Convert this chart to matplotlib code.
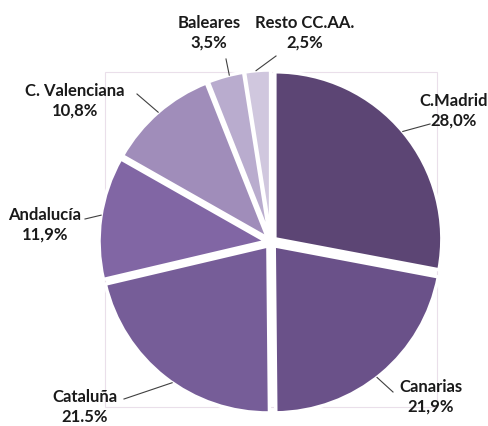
import matplotlib.pyplot as plt
import numpy as np
from matplotlib.patches import Rectangle

# data
regions = ["C.Madrid", "Canarias", "Cataluña", "Andalucía", "C. Valenciana", "Baleares", "Resto CC.AA."]
shares = [28.0, 21.9, 21.5, 11.9, 10.8, 3.5, 2.5]
share_labels = ["28,0%", "21,9%", "21.5%", "11,9%", "10,8%", "3,5%", "2,5%"]
colors = ["#5c4574", "#6a5189", "#765d98", "#8166a4", "#a08dba", "#b9acce", "#d0c7de"]

# layout (pixels from top-left of the image)
W, H = 489, 427
cx, cy, R = 271, 243, 167
label_pos = [(454, 111), (431, 397), (85, 407), (45, 225), (75, 101), (209, 33), (305, 33)]
anchor_ang = [40, -52, -125, 171, 131, 104, 95]
elbow = [(430, 125), (393, 393), (124, 400), (85, 220), (137, 95), (226, 60), (276, 57)]

plt.rcParams['font.family'] = ['Lato', 'DejaVu Sans']

fig = plt.figure(figsize=(W / 100, H / 100), dpi=100)
ax = fig.add_axes([0, 0, 1, 1])


def px(x, y):
    return (x - cx) / R, (cy - y) / R


ex = 0.03
wedges, _ = ax.pie(shares, colors=colors, startangle=90, counterclock=False,
                   explode=[ex] * len(shares), radius=1,
                   wedgeprops=dict(edgecolor="white", linewidth=2.5))
ax.set_xlim(-cx / R, (W - cx) / R)
ax.set_ylim(-(H - cy) / R, cy / R)
ax.set_aspect('equal')
ax.axis('off')

# faint plot-area frame
x0, y0 = px(105, 408)
x1, y1 = px(437, 73)
ax.add_patch(Rectangle((x0, y0), x1 - x0, y1 - y0, fill=False, ec="#eadfea", lw=0.8, zorder=0))

# leader lines and labels
for i, w in enumerate(wedges):
    mid = np.deg2rad((w.theta1 + w.theta2) / 2)
    ox, oy = ex * np.cos(mid), ex * np.sin(mid)
    a = np.deg2rad(anchor_ang[i])
    ax_pt = (np.cos(a) + ox, np.sin(a) + oy)
    ex_pt = px(*elbow[i])
    ax.plot([ax_pt[0], ex_pt[0]], [ax_pt[1], ex_pt[1]], color="#404040", lw=0.8)
    lx, ly = px(*label_pos[i])
    ax.text(lx, ly, regions[i] + "\n" + share_labels[i], ha="center", va="center",
            fontsize=12, fontweight="bold", color="#1a1a1a", linespacing=1.3)

fig.savefig("out.png", dpi=100)
